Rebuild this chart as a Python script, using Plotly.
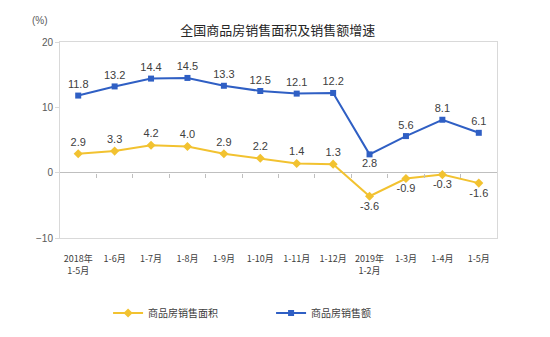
import plotly.graph_objects as go

# Periods (cumulative months)
categories = ["2018年<br>1-5月", "1-6月", "1-7月", "1-8月", "1-9月", "1-10月",
              "1-11月", "1-12月", "2019年<br>1-2月", "1-3月", "1-4月", "1-5月"]
# Growth rates, %
area_growth = [2.9, 3.3, 4.2, 4.0, 2.9, 2.2, 1.4, 1.3, -3.6, -0.9, -0.3, -1.6]
sales_growth = [11.8, 13.2, 14.4, 14.5, 13.3, 12.5, 12.1, 12.2, 2.8, 5.6, 8.1, 6.1]

area_name = "商品房销售面积"
sales_name = "商品房销售额"
title_text = "全国商品房销售面积及销售额增速"

BLUE = "#2F5FC4"
YELLOW = "#F2C230"
LABEL_FONT = dict(family="Liberation Sans, Arial, sans-serif", size=11, color="#404040")
CJK = "Noto Sans CJK SC"

idx = list(range(len(categories)))

def positions(vals, low_idx=None):
    out = []
    for i, v in enumerate(vals):
        if v < 0 or (low_idx is not None and i in low_idx):
            out.append("bottom center")
        else:
            out.append("top center")
    return out

fig = go.Figure()
fig.add_trace(go.Scatter(
    x=idx, y=area_growth, name=area_name, mode="lines+markers+text",
    line=dict(color=YELLOW, width=2),
    marker=dict(symbol="diamond", size=7, color=YELLOW),
    text=[f"{v:.1f}" for v in area_growth],
    textposition=positions(area_growth),
    textfont=LABEL_FONT, cliponaxis=False,
))
fig.add_trace(go.Scatter(
    x=idx, y=sales_growth, name=sales_name, mode="lines+markers+text",
    line=dict(color=BLUE, width=2),
    marker=dict(symbol="square", size=6, color=BLUE),
    text=[f"{v:.1f}" for v in sales_growth],
    textposition=positions(sales_growth, low_idx={8}),
    textfont=LABEL_FONT, cliponaxis=False,
))
# helper trace so the category-boundary tick axis is drawn
fig.add_trace(go.Scatter(x=[0], y=[0], xaxis="x2", mode="markers",
                         marker=dict(opacity=0), showlegend=False, hoverinfo="skip"))

fig.update_layout(
    width=550, height=337,
    margin=dict(l=60, r=53, t=42, b=99, autoexpand=False),
    paper_bgcolor="white", plot_bgcolor="white",
    title=dict(text=title_text, x=0.505, xanchor="center", y=0.91, yanchor="middle",
               font=dict(family=CJK, size=13, color="#262626")),
    showlegend=True,
    legend=dict(orientation="h", x=0.11, xanchor="left",
                yref="container", y=0.071, yanchor="middle",
                entrywidth=118, entrywidthmode="pixels",
                font=dict(family=CJK, size=10, color="#404040"),
                itemwidth=30),
    xaxis=dict(range=[-0.5, 11.5], tickmode="array", tickvals=idx, ticktext=categories,
               showgrid=False, zeroline=False, showline=True, mirror=True,
               linecolor="#D9D9D9", linewidth=1, ticks="", ticklabelstandoff=12,
               tickfont=dict(family=CJK, size=9, color="#404040")),
    xaxis2=dict(range=[-0.5, 11.5], overlaying="x", anchor="free", position=1/3,
                tickmode="array", tickvals=[i + 0.5 for i in idx[:-1]],
                ticks="outside", ticklen=4, tickcolor="#BFBFBF",
                showticklabels=False, showgrid=False, zeroline=False, showline=False),
    yaxis=dict(range=[-10, 20], tickmode="array", tickvals=[-10, 0, 10, 20],
               showgrid=False, zeroline=True, zerolinecolor="#BFBFBF", zerolinewidth=1,
               showline=True, mirror=True, linecolor="#D9D9D9", linewidth=1,
               ticks="outside", ticklen=4, tickcolor="#D9D9D9",
               tickfont=dict(family="Liberation Sans, Arial, sans-serif", size=10, color="#595959")),
    annotations=[dict(text="(%)", xref="paper", yref="paper", x=-0.023, y=1.11,
                      xanchor="right", yanchor="middle", showarrow=False,
                      font=dict(family="Liberation Sans, Arial, sans-serif", size=10, color="#595959"))],
)

fig.write_html("out.html")
